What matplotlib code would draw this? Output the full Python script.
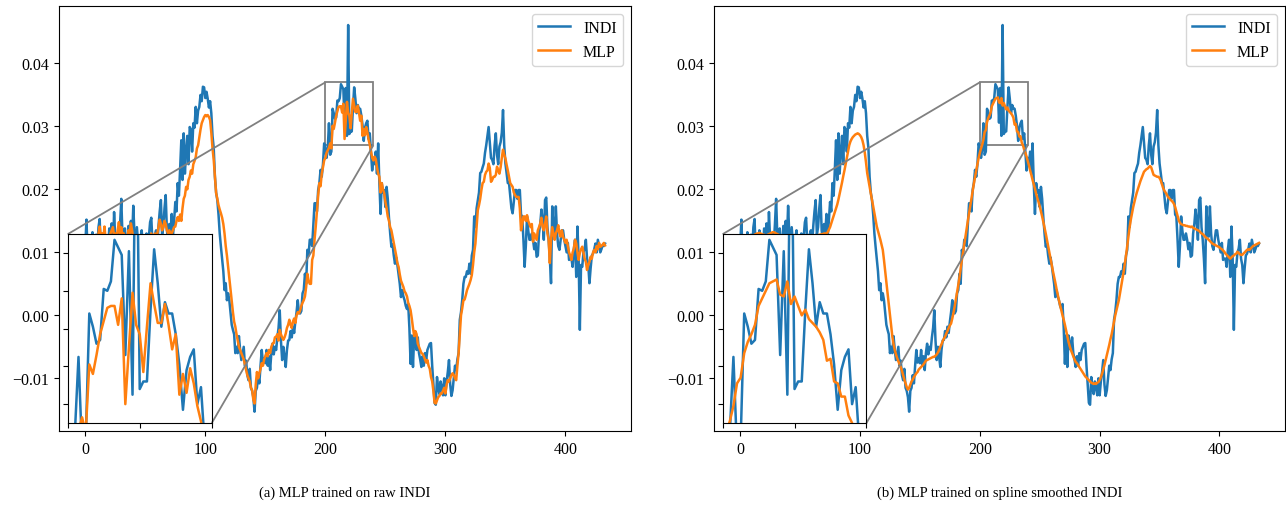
import numpy as np
import matplotlib
matplotlib.use("Agg")
import matplotlib.pyplot as plt
from mpl_toolkits.axes_grid1.inset_locator import mark_inset

plt.rcParams['font.family'] = 'serif'
plt.rcParams['font.serif'] = ['Liberation Serif', 'DejaVu Serif']
plt.rcParams['font.size'] = 11.5

# all values below are in units of 1e-3
indi = [
    11.0, 15.2, 9.5, 12.0, 8.8, 10.5, 13.2, 9.0, 11.5, 12.8,
    10.2, 14.0, 15.3, 9.8, 12.5, 11.0, 13.5, 8.5, 12.2, 10.8,
    13.8, 11.5, 14.6, 9.2, 16.4, 12.0, 10.5, 13.0, 11.2, 14.5,
    18.5, 12.5, 9.5, 13.8, 11.0, 10.2, 14.2, 12.5, 15.0, 11.8,
    17.4, 12.8, 10.0, 14.0, 11.5, 9.0, 12.2, 13.5, 10.8, 12.0,
    11.2, 13.0, 9.8, 12.5, 14.8, 15.5, 11.5, 10.0, 12.8, 13.5,
    11.0, 14.2, 16.5, 18.3, 12.8, 14.0, 17.0, 19.1, 13.5, 11.8,
    14.5, 13.0, 16.1, 12.5, 15.0, 18.0, 16.5, 21.0, 19.0, 23.2,
    27.8, 21.5, 28.9, 22.5, 26.0, 28.5, 24.0, 29.9, 29.5, 26.0,
    30.5, 29.8, 33.1, 30.5, 32.5, 33.1, 35.0, 34.0, 36.3, 36.2,
    34.5, 35.5, 34.4, 33.0, 34.0, 32.1, 28.5, 26.6, 22.0, 19.5,
    18.3, 16.0, 13.0, 10.9, 9.0, 7.0, 4.0, 5.1, 2.4, 3.5,
    2.4, 0.5, -1.5, -2.3, -3.0, -6.0, -5.0, -6.0, -3.3, -5.5,
    -7.1, -6.0, -5.0, -8.0, -7.2, -9.5, -10.3, -8.5, -11.5, -12.0,
    -13.0, -15.3, -12.0, -11.5, -9.5, -10.8, -8.0, -5.5, -7.5, -6.8,
    -7.6, -5.5, -8.0, -6.5, -8.7, -6.0, -4.5, -6.2, -5.0, -5.5,
    -3.5, -2.0, 0.8, -4.0, -7.1, -5.0, -6.5, -8.2, -5.5, -4.0,
    -3.9, -2.5, -3.5, -1.8, -2.8, -1.0, 0.5, 2.4, 0.5, 0.3,
    0.7, 3.5, 4.0, 6.6, 5.0, 10.4, 9.5, 12.0, 12.0, 11.0,
    14.5, 17.8, 17.8, 16.5, 19.9, 21.0, 23.1, 22.0, 24.0, 27.3,
    26.5, 25.0, 26.5, 30.5, 25.5, 26.0, 32.8, 32.1, 31.2, 31.4,
    34.1, 34.0, 34.5, 36.7, 36.3, 35.9, 30.6, 36.1, 28.5, 46.1,
    28.8, 29.2, 29.2, 33.0, 36.2, 34.4, 32.1, 33.4, 32.8, 32.8,
    31.7, 30.1, 27.7, 29.8, 30.5, 30.9, 28.0, 28.9, 26.0, 23.0,
    25.0, 24.0, 26.0, 22.5, 27.3, 21.0, 16.1, 21.0, 19.5, 19.9,
    17.2, 20.4, 18.5, 15.5, 13.0, 10.9, 11.3, 9.5, 8.2, 9.2,
    8.0, 6.5, 5.0, 2.9, 4.0, 3.0, 2.4, 1.5, 1.0, 1.8,
    -2.0, -7.7, -3.2, -8.2, -3.2, -4.5, -5.5, -3.5, -6.0, -7.0,
    -8.2, -6.5, -8.0, -6.0, -7.1, -5.5, -5.0, -4.5, -4.4, -8.0,
    -11.0, -13.9, -14.2, -9.8, -11.5, -12.5, -10.5, -11.4, -12.7, -10.0,
    -12.7, -10.5, -9.0, -7.1, -11.0, -12.8, -11.9, -10.0, -8.0, -8.7,
    -7.0, -6.0, -0.7, 0.5, 2.4, 5.0, 6.1, 6.1, 7.0, 6.6,
    8.2, 6.6, 9.5, 10.4, 15.7, 14.0, 17.0, 18.3, 19.5, 22.6,
    22.8, 23.5, 24.1, 25.8, 27.0, 28.5, 29.9, 27.5, 25.0, 24.7,
    24.0, 27.0, 28.9, 25.5, 24.0, 26.8, 27.5, 29.0, 32.6, 27.0,
    24.1, 22.5, 21.0, 21.0, 19.0, 17.0, 16.2, 18.0, 19.9, 19.9,
    18.5, 19.9, 19.9, 16.0, 15.7, 12.0, 7.7, 11.0, 15.7, 13.5,
    12.0, 12.0, 13.0, 12.0, 10.5, 11.5, 9.3, 9.5, 13.0, 14.5,
    16.8, 15.0, 12.0, 18.3, 18.7, 14.0, 12.0, 9.0, 5.1, 17.3,
    14.0, 12.5, 17.3, 13.0, 11.0, 10.4, 12.0, 13.5, 13.5, 12.0,
    11.0, 10.0, 11.5, 8.8, 9.0, 9.0, 7.7, 10.5, 12.0, 6.1,
    14.1, 9.0, -2.3, 8.0, 7.7, 10.0, 10.6, 12.0, 9.0, 8.0,
    5.1, 7.5, 9.5, 9.8, 10.5, 11.4, 10.0, 12.0, 11.0, 10.0,
    10.5, 11.2, 11.0, 11.4,
]

mlp_raw = [
    9.0, 10.0, 11.5, 11.0, 10.5, 12.0, 11.0, 10.5, 12.5, 11.5,
    12.0, 13.0, 14.1, 12.5, 13.0, 12.0, 14.1, 12.0, 11.5, 12.5,
    12.0, 13.0, 13.5, 14.0, 12.5, 13.0, 12.0, 13.5, 14.8, 13.0,
    14.0, 12.5, 13.0, 12.0, 11.5, 12.5, 13.5, 13.0, 14.6, 13.5,
    12.0, 12.5, 11.5, 12.0, 11.0, 10.5, 11.5, 12.0, 11.0, 11.5,
    11.0, 12.0, 11.5, 12.5, 12.0, 13.0, 12.5, 12.0, 13.0, 12.5,
    13.0, 14.0, 15.2, 14.5, 13.5, 14.0, 15.0, 14.5, 13.5, 13.0,
    13.5, 12.5, 13.0, 13.5, 14.0, 14.1, 15.0, 15.6, 15.0, 16.0,
    15.0, 17.0, 18.5, 19.0, 20.4, 20.0, 21.5, 22.0, 23.0, 22.5,
    24.0, 24.5, 25.1, 26.5, 27.0, 28.3, 29.5, 30.5, 31.0, 31.5,
    31.8, 31.6, 31.8, 31.5, 31.0, 29.0, 26.5, 24.7, 22.0, 19.4,
    18.5, 17.5, 16.8, 16.2, 15.5, 14.5, 13.0, 11.0, 9.5, 7.7,
    6.0, 4.0, 2.4, 0.5, -1.0, -1.8, -3.0, -4.0, -5.0, -5.5,
    -6.0, -6.5, -7.0, -7.8, -8.7, -9.5, -10.0, -10.5, -11.5, -11.9,
    -13.4, -14.0, -11.0, -9.0, -10.0, -9.2, -8.5, -7.6, -8.0, -7.0,
    -6.5, -6.0, -6.5, -5.5, -6.0, -5.0, -4.5, -4.4, -3.5, -3.4,
    -3.0, -4.0, -2.3, -3.0, -3.5, -3.9, -3.5, -2.9, -2.0, -1.5,
    -0.7, -1.5, -2.0, -1.0, -0.5, -1.2, 0.0, 0.5, 0.3, 0.8,
    1.5, 2.0, 2.4, 3.0, 4.5, 6.6, 5.5, 5.0, 5.0, 8.8,
    9.5, 12.0, 14.1, 16.5, 19.0, 21.0, 20.5, 22.5, 23.5, 24.6,
    25.0, 25.8, 26.2, 26.6, 27.3, 26.5, 30.1, 29.6, 30.6, 31.7,
    32.4, 33.1, 33.2, 33.2, 32.2, 33.6, 28.0, 31.0, 33.9, 32.2,
    31.7, 29.7, 32.1, 34.4, 33.3, 32.3, 32.3, 33.3, 32.2, 30.9,
    31.7, 28.5, 29.6, 28.6, 29.9, 29.1, 27.9, 27.1, 26.0, 25.0,
    24.6, 25.2, 24.8, 23.5, 22.5, 22.0, 19.5, 21.0, 20.0, 19.4,
    18.0, 17.0, 15.7, 15.0, 14.0, 13.5, 12.5, 11.5, 10.5, 9.5,
    8.3, 7.7, 6.5, 5.5, 5.0, 4.5, 3.8, 3.5, 3.0, 2.0,
    1.5, 0.8, -0.5, -2.0, -3.3, -2.5, -3.0, -4.5, -5.0, -5.5,
    -6.0, -6.1, -6.5, -7.0, -7.5, -7.1, -8.0, -8.5, -9.8, -10.5,
    -12.0, -13.9, -14.0, -13.5, -13.0, -12.8, -12.4, -12.4, -12.0, -11.5,
    -12.4, -11.0, -10.3, -10.5, -10.0, -9.5, -9.2, -9.5, -10.0, -10.3,
    -8.0, -6.0, -3.0, 0.0, 1.1, 2.4, 2.5, 3.2, 4.0, 4.5,
    5.0, 5.6, 6.4, 8.0, 10.0, 11.4, 14.0, 16.7, 17.5, 18.5,
    19.9, 21.0, 21.2, 22.3, 22.8, 23.0, 24.1, 23.4, 21.2, 21.5,
    22.0, 22.0, 22.3, 23.6, 23.0, 22.5, 23.5, 25.0, 26.3, 25.5,
    24.9, 23.9, 23.0, 22.0, 21.0, 20.7, 20.4, 19.5, 19.1, 18.8,
    18.8, 18.8, 17.0, 13.5, 14.5, 15.7, 15.7, 15.0, 15.9, 15.0,
    14.5, 14.0, 14.5, 11.7, 13.0, 12.5, 12.0, 13.5, 14.0, 14.6,
    15.5, 14.0, 13.5, 14.5, 15.7, 13.0, 12.0, 8.3, 12.0, 14.0,
    13.0, 12.0, 13.0, 13.5, 14.3, 13.0, 12.5, 13.5, 12.5, 12.0,
    11.5, 12.0, 11.0, 10.0, 9.5, 8.8, 10.0, 10.6, 12.0, 11.4,
    10.0, 8.8, 9.9, 10.5, 10.9, 10.0, 9.0, 8.5, 7.2, 8.0,
    8.5, 9.3, 9.0, 10.0, 10.4, 10.0, 11.0, 10.5, 11.5, 10.9,
    11.0, 11.2, 11.5, 11.1,
]

mlp_spline = [
    9.5, 10.0, 10.5, 11.0, 11.3, 11.5, 11.8, 12.0, 12.2, 12.3,
    12.5, 12.6, 12.8, 12.9, 13.0, 13.0, 13.1, 13.0, 12.9, 12.8,
    12.8, 12.7, 12.7, 12.8, 12.9, 13.0, 13.1, 13.2, 13.2, 13.1,
    13.0, 12.9, 12.8, 12.6, 12.5, 12.3, 12.2, 12.0, 11.9, 11.8,
    11.7, 11.6, 11.5, 11.5, 11.4, 11.4, 11.5, 11.6, 11.7, 11.8,
    11.9, 12.0, 12.0, 12.1, 12.1, 12.2, 12.2, 12.3, 12.3, 12.4,
    12.4, 12.5, 12.5, 12.6, 12.7, 12.7, 12.8, 12.8, 12.9, 12.9,
    13.0, 13.0, 13.0, 13.2, 13.6, 14.0, 14.6, 15.2, 15.8, 16.4,
    17.0, 17.6, 18.4, 19.3, 20.2, 21.1, 22.1, 23.0, 24.0, 25.0,
    26.0, 27.0, 27.6, 28.0, 28.3, 28.5, 28.7, 28.8, 28.9, 28.8,
    28.6, 28.3, 27.8, 27.0, 25.8, 24.3, 22.6, 21.5, 20.4, 19.4,
    18.3, 17.3, 16.2, 15.2, 14.1, 13.4, 12.7, 12.0, 11.2, 10.4,
    8.8, 7.0, 5.2, 3.5, 1.8, 0.2, -1.6, -3.4, -4.6, -5.5,
    -6.2, -6.8, -7.3, -7.8, -8.2, -8.8, -9.5, -10.2, -10.8, -11.4,
    -11.8, -11.5, -11.0, -10.5, -10.2, -9.8, -9.5, -9.2, -9.0, -8.6,
    -8.4, -8.2, -8.0, -7.8, -7.5, -7.2, -7.1, -7.0, -6.9, -6.8,
    -6.7, -6.6, -6.6, -6.4, -6.2, -5.9, -5.5, -5.0, -4.6, -4.1,
    -3.7, -3.4, -2.9, -2.5, -2.0, -1.6, -1.3, -0.5, 0.4, 1.4,
    2.5, 3.5, 4.8, 6.0, 7.4, 8.8, 10.0, 11.2, 12.5, 13.8,
    15.0, 16.2, 17.4, 18.6, 19.8, 20.9, 22.0, 23.0, 24.0, 25.0,
    25.8, 26.5, 27.1, 27.9, 29.1, 29.4, 30.7, 31.3, 31.7, 32.2,
    33.2, 33.6, 34.0, 34.4, 34.5, 34.6, 33.8, 33.7, 34.5, 33.3,
    33.7, 33.2, 32.7, 33.0, 32.5, 32.3, 32.1, 31.8, 31.4, 30.3,
    30.4, 29.2, 29.1, 28.4, 28.4, 27.4, 27.0, 26.3, 25.8, 25.2,
    24.5, 23.8, 23.0, 22.3, 21.5, 20.8, 20.1, 19.3, 18.6, 18.0,
    17.3, 16.5, 15.7, 14.8, 13.9, 13.0, 12.0, 11.0, 10.0, 9.0,
    8.0, 7.0, 6.1, 5.2, 4.2, 3.3, 2.4, 1.6, 0.8, 0.0,
    -0.7, -1.5, -2.4, -3.3, -4.2, -4.9, -5.5, -6.0, -6.5, -7.0,
    -7.4, -7.6, -7.9, -8.2, -8.5, -8.8, -9.1, -9.4, -9.7, -9.9,
    -10.1, -10.3, -10.5, -10.7, -10.8, -10.9, -10.8, -10.9, -10.7, -10.6,
    -10.3, -9.8, -9.3, -8.6, -7.9, -7.1, -6.3, -5.5, -4.7, -3.8,
    -3.0, -2.0, -1.0, 0.0, 0.8, 1.6, 2.4, 3.5, 4.6, 5.7,
    6.9, 8.2, 9.5, 11.0, 12.5, 14.0, 15.2, 16.2, 17.2, 18.0,
    18.8, 19.5, 20.1, 20.7, 21.3, 21.8, 22.3, 22.8, 23.0, 23.2,
    23.3, 23.5, 23.7, 23.5, 22.9, 22.3, 22.2, 22.1, 22.0, 22.0,
    21.8, 21.4, 20.8, 20.2, 19.8, 19.5, 19.2, 18.8, 18.6, 18.4,
    18.2, 18.0, 17.7, 17.2, 16.5, 15.8, 15.1, 14.7, 14.5, 14.4,
    14.3, 14.3, 14.2, 14.2, 14.1, 14.1, 14.0, 14.1, 13.9, 13.8,
    13.7, 13.6, 13.5, 13.4, 13.2, 13.0, 12.9, 12.7, 12.5, 12.3,
    12.2, 12.0, 11.8, 11.6, 11.4, 11.3, 11.2, 11.1, 11.0, 10.9,
    10.8, 10.6, 10.5, 10.3, 10.1, 9.8, 9.6, 9.4, 9.2, 9.0,
    9.2, 9.4, 9.5, 9.7, 9.8, 10.1, 9.9, 9.7, 9.6, 9.6,
    9.8, 10.0, 10.2, 10.4, 10.5, 10.4, 10.6, 10.8, 11.0, 11.1,
    11.2, 11.3, 11.4, 11.5,
]

# zoomed window
zoom_x = (200, 240)
zoom_y = (0.027, 0.037)

captions = ["(a) MLP trained on raw INDI",
            "(b) MLP trained on spline smoothed INDI"]


def draw_panel(ax, indi_vals, mlp_vals):
    indi_arr = np.array(indi_vals) * 1e-3
    mlp_arr = np.array(mlp_vals) * 1e-3
    ax.plot(np.arange(len(indi_arr)), indi_arr, color='#1f77b4', lw=1.8, label='INDI')
    ax.plot(np.arange(len(mlp_arr)), mlp_arr, color='#ff7f0e', lw=1.8, label='MLP')
    ax.set_xticks([0, 100, 200, 300, 400])
    ax.set_yticks([-0.01, 0.0, 0.01, 0.02, 0.03, 0.04])
    ax.legend(loc='upper right')

    # inset with zoom on the second peak
    axins = ax.inset_axes([0.0147, 0.0188, 0.252, 0.444])
    axins.plot(np.arange(len(indi_arr)), indi_arr, color='#1f77b4', lw=1.8)
    axins.plot(np.arange(len(mlp_arr)), mlp_arr, color='#ff7f0e', lw=1.8)
    axins.set_xlim(*zoom_x)
    axins.set_ylim(*zoom_y)
    axins.set_xticklabels([])
    axins.set_yticklabels([])
    mark_inset(ax, axins, loc1=2, loc2=4, fc='none', ec='0.5', lw=1.3)


fig = plt.figure(figsize=(12.86, 5.06), dpi=100)
ax1 = fig.add_axes([0.0461, 0.1462, 0.4446, 0.8406])
ax2 = fig.add_axes([0.5554, 0.1462, 0.4438, 0.8406])

draw_panel(ax1, indi, mlp_raw)
draw_panel(ax2, indi, mlp_spline)

fig.text(0.0461 + 0.4446 / 2, 0.026, captions[0], ha='center', va='center', fontsize=10.5)
fig.text(0.5554 + 0.4438 / 2, 0.026, captions[1], ha='center', va='center', fontsize=10.5)

fig.savefig('out.png', dpi=100)
